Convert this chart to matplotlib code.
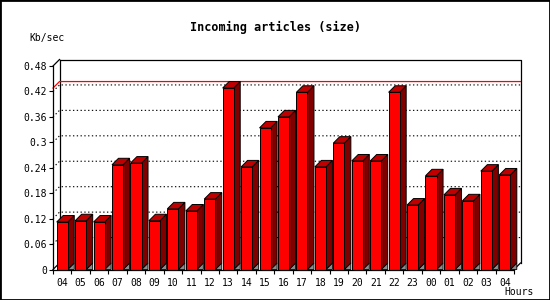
import matplotlib
matplotlib.use('Agg')
import matplotlib.pyplot as plt
from matplotlib.patches import Polygon, Rectangle
import numpy as np

hours = ['04', '05', '06', '07', '08', '09', '10', '11', '12', '13', '14', '15', '16',
         '17', '18', '19', '20', '21', '22', '23', '00', '01', '02', '03', '04']
kb_sec = [0.112, 0.115, 0.112, 0.247, 0.251, 0.115, 0.143, 0.138, 0.166, 0.428,
          0.242, 0.334, 0.360, 0.418, 0.242, 0.298, 0.256, 0.256, 0.418, 0.152,
          0.221, 0.176, 0.162, 0.232, 0.223]
y_ticks = [0, 0.06, 0.12, 0.18, 0.24, 0.30, 0.36, 0.42, 0.48]
y_tick_labels = ['0', '0.06', '0.12', '0.18', '0.24', '0.3', '0.36', '0.42', '0.48']

W, H = 550, 300
fig = plt.figure(figsize=(W / 100, H / 100), dpi=100)
fig.patch.set_facecolor('white')

# front plane of the 3D box
ax_l, ax_b, ax_w, ax_h = 53, 30.5, 461, 203.5
ax = fig.add_axes([ax_l / W, ax_b / H, ax_w / W, ax_h / H])
ax.set_facecolor('none')

n = len(hours)
ymax = y_ticks[-1]
ax.set_xlim(-0.5, n - 0.5)
ax.set_ylim(0, ymax)

# depth of the 3D effect, px -> data units
dx = 6.5 * n / ax_w
dy = 6.5 * ymax / ax_h
x0, x1 = -0.5, n - 0.5

mono = 'DejaVu Sans Mono'

# back wall outline
wall = dict(color='black', lw=0.9, clip_on=False, zorder=1)
ax.plot([x0 + dx, x1 + dx, x1 + dx], [ymax + dy, ymax + dy, dy], **wall)
ax.plot([x0 + dx, x0 + dx], [dy, ymax + dy], **wall)
ax.plot([x0, x0 + dx], [ymax, ymax + dy], **wall)
ax.plot([x1, x1 + dx], [0, dy], **wall)
ax.plot([x0, x0 + dx], [0, dy], **wall)

# dotted grid on the back wall
for v in y_ticks[1:-1]:
    ax.plot([x0, x0 + dx, x1 + dx], [v, v + dy, v + dy], color='black', lw=0.8,
            linestyle=(0, (1.2, 2.2)), clip_on=False, zorder=1)

# red line at the maximum
vmax = max(kb_sec)
ax.plot([x0, x0 + dx, x1 + dx], [vmax, vmax + dy, vmax + dy], color='#FF0000',
        lw=0.9, clip_on=False, zorder=1.5)

# 3D bars
bw = 0.6
for i, v in enumerate(kb_sec):
    xl, xr = i - bw / 2, i + bw / 2
    floor = Polygon([(xr, 0), (xr + dx, dy), (xr + dx, 0)], closed=True,
                    facecolor='#8C8C8C', edgecolor='black', lw=0.6, clip_on=False, zorder=2)
    side = Polygon([(xr, 0), (xr + dx, dy), (xr + dx, v + dy), (xr, v)], closed=True,
                   facecolor='#800000', edgecolor='black', lw=0.7, clip_on=False, zorder=2)
    top = Polygon([(xl, v), (xr, v), (xr + dx, v + dy), (xl + dx, v + dy)], closed=True,
                  facecolor='#C00000', edgecolor='black', lw=0.7, clip_on=False, zorder=2)
    ax.add_patch(floor)
    ax.add_patch(side)
    ax.add_patch(top)
ax.bar(range(n), kb_sec, width=bw, color='#FF0000', edgecolor='black', linewidth=0.7, zorder=3)

# axes
for s in ['top', 'right']:
    ax.spines[s].set_visible(False)
for s in ['left', 'bottom']:
    ax.spines[s].set_linewidth(0.9)
    ax.spines[s].set_zorder(4)

ax.set_yticks(y_ticks)
ax.set_yticklabels(y_tick_labels, family=mono, fontsize=7)
ax.tick_params(axis='y', direction='out', length=3, width=0.8, pad=1.5)

ax.set_xticks(np.arange(n + 1) - 0.5)
ax.set_xticklabels([])
ax.tick_params(axis='x', which='major', direction='out', length=3, width=0.8)
ax.set_xticks(np.arange(n), minor=True)
ax.set_xticklabels(hours, minor=True, family=mono, fontsize=7)
ax.tick_params(axis='x', which='minor', length=0, pad=6)

fig.text(275 / W, 1 - 27 / H, 'Incoming articles (size)', ha='center', va='center',
         family=mono, fontweight='bold', fontsize=8.5)
fig.text(29 / W, 1 - 38 / H, 'Kb/sec', ha='left', va='center', family=mono, fontsize=7)
fig.text(534 / W, 1 - 292 / H, 'Hours', ha='right', va='center', family=mono, fontsize=7)

# image border
fig.patches.append(Rectangle((0, 0), 1, 1, transform=fig.transFigure, fill=False,
                             edgecolor='black', lw=2, zorder=10))

fig.savefig('out.png', dpi=100)
